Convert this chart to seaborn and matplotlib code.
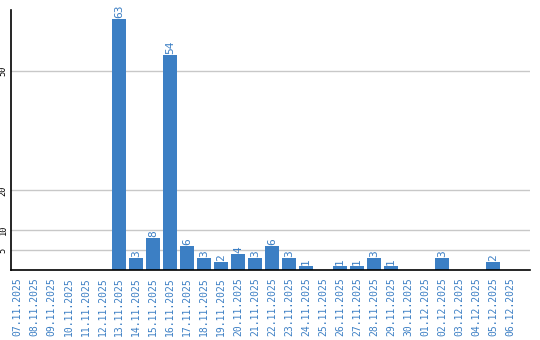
import matplotlib
matplotlib.use("Agg")
import matplotlib.pyplot as plt
import seaborn as sns
import pandas as pd

dates = ["07.11.2025", "08.11.2025", "09.11.2025", "10.11.2025", "11.11.2025", "12.11.2025",
         "13.11.2025", "14.11.2025", "15.11.2025", "16.11.2025", "17.11.2025", "18.11.2025",
         "19.11.2025", "20.11.2025", "21.11.2025", "22.11.2025", "23.11.2025", "24.11.2025",
         "25.11.2025", "26.11.2025", "27.11.2025", "28.11.2025", "29.11.2025", "30.11.2025",
         "01.12.2025", "02.12.2025", "03.12.2025", "04.12.2025", "05.12.2025", "06.12.2025"]
values = [0, 0, 0, 0, 0, 0,
          63, 3, 8, 54, 6, 3,
          2, 4, 3, 6, 3, 1,
          0, 1, 1, 3, 1, 0,
          0, 3, 0, 0, 2, 0]
y_ticks = [5, 10, 20, 50]

blue = "#3c7fc4"
sns.set_style("white")
plt.rcParams['font.family'] = ['DejaVu Sans Mono', 'DejaVu Sans']

df = pd.DataFrame({"date": dates, "value": values})
fig = plt.figure(figsize=(5.4, 3.4), dpi=100)
ax = fig.add_axes([10.5/540, 70/340, 519.5/540, 260/340])
sns.barplot(data=df, x="date", y="value", color=blue, width=0.82, saturation=1,
            linewidth=0, ax=ax, zorder=3)

for i, v in enumerate(values):
    if v > 0:
        ax.annotate(str(v), (i, v), xytext=(0, 1), textcoords="offset points",
                    rotation=90, ha="center", va="bottom", color=blue, fontsize=8)

ax.set_ylim(0, 65.3)
ax.set_xlim(-0.41, 30.18)
ax.set_yticks(y_ticks)
ax.set_yticklabels([str(t) for t in y_ticks], rotation=90, va="center", fontsize=6.2, color="black")
ax.set_xticks(range(len(dates)))
ax.set_xticklabels(dates, rotation=90, fontsize=7, color=blue)
ax.tick_params(axis="x", length=0, pad=5)
ax.tick_params(axis="y", length=0, pad=2)
ax.grid(axis="y", color="#c8c8c8", linewidth=1, zorder=0)
ax.grid(axis="x", visible=False)
ax.set_xlabel("")
ax.set_ylabel("")
for s in ["top", "right"]:
    ax.spines[s].set_visible(False)
for s in ["left", "bottom"]:
    ax.spines[s].set_color("black")
    ax.spines[s].set_linewidth(1.2)
    ax.spines[s].set_zorder(4)

fig.savefig("out.png", dpi=100)
